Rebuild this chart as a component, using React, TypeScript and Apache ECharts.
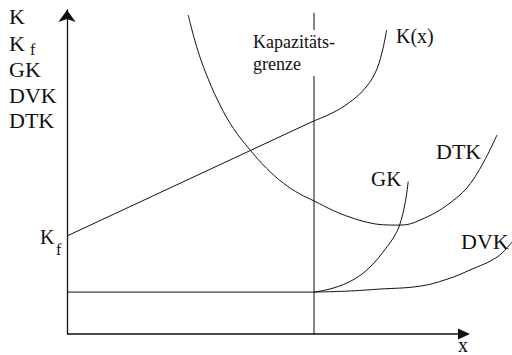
import React, { useEffect, useRef } from "react";
import * as echarts from "echarts";

// Data in axis units (x: 0..111.25, y: 0..98.18)
const capacityX = 61.75;
const fixedCost = 29.7; // K_f level
const variableBase = 12.7; // level of the flat part up to the capacity limit
const xAxisEnd = 100.75;
const kLine: number[][] = [[0, fixedCost], [capacityX, 64.6]];
const kCurve: number[][] = [[61.75, 64.6], [66.2, 66.9], [70.3, 69.9], [74.1, 73.9], [77, 79], [78.7, 85.1], [79.9, 92.1]];
const dtk: number[][] = [
  [30.3, 96.7], [32.4, 87.1], [34.9, 78.5], [38.25, 69.4], [41.6, 62.3], [45.75, 55.8], [49.9, 50.2],
  [54.1, 45.7], [58.25, 42.4], [61.8, 40.3], [66.6, 37.4], [70.75, 35.4], [74.9, 33.9], [79.1, 33.1],
  [83.25, 33.0], [88.25, 34.5], [95.75, 39.7], [101.5, 46.7], [107.5, 60.3],
];
const gk: number[][] = [
  [61.75, 12.7], [66.5, 13.9], [71.5, 16.4], [75.75, 20.3], [80, 26.4], [82, 30], [83.15, 33.0],
  [84.5, 39.5], [85.3, 46.2],
];
const dvk: number[][] = [
  [61.75, 12.7], [70, 13.0], [78, 13.6], [88.25, 14.5], [95, 16.6], [100.75, 19.4], [107.5, 23.3], [111.25, 27.9],
];
const baseLine: number[][] = [[0, variableBase], [capacityX, variableBase]];
const capLow: number[][] = [[capacityX, 0], [capacityX, 78.2]];
const capHigh: number[][] = [[capacityX, 92.1], [capacityX, 97.3]];

const FAMILY = "Liberation Serif";

// text label placed by its left edge and baseline
function lab(text: string, x: number, baseline: number, size: number) {
  return {
    text,
    left: x,
    top: baseline - 0.8375 * size,
    padding: 0,
    textStyle: { fontFamily: FAMILY, fontSize: size, fontWeight: "normal", color: "#111" },
  };
}

export default function App() {
  const ref = useRef<HTMLDivElement>(null);
  useEffect(() => {
    if (!ref.current) return;
    const chart = echarts.init(ref.current, null, { renderer: "svg" });
    const lineStyle = { color: "#111", width: 1 };
    const mk = (data: number[][], smooth: number | boolean = false) => ({
      type: "line",
      data,
      smooth,
      symbol: "none",
      clip: false,
      lineStyle,
      silent: true,
    });
    const labels = [
      lab("K", 9, 24, 22),
      lab("K", 9, 51, 22),
      lab("f", 30, 55, 16),
      lab("GK", 9, 77, 22),
      lab("DVK", 9, 103, 22),
      lab("DTK", 9, 128, 22),
      lab("K", 40, 244, 20),
      lab("f", 56, 255, 16),
      lab("K(x)", 396, 43, 20),
      lab("DTK", 436, 159, 22),
      lab("GK", 371, 186, 21),
      lab("DVK", 461, 249, 22),
      lab("x", 458, 352, 20),
      lab("Kapazitäts-", 253, 48, 18),
      lab("grenze", 253, 70, 18),
    ];
    chart.setOption({
      animation: false,
      backgroundColor: "#fff",
      title: labels,
      grid: { left: 67, right: 0, top: 10, bottom: 21 },
      xAxis: {
        type: "value",
        min: 0,
        max: 111.25,
        splitLine: { show: false },
        axisTick: { show: false },
        axisLabel: { show: false },
        axisLine: { show: false },
      },
      yAxis: {
        type: "value",
        min: 0,
        max: 98.18,
        splitLine: { show: false },
        axisTick: { show: false },
        axisLabel: { show: false },
        axisLine: { lineStyle: { color: "#111", width: 1.3 }, symbol: ["none", "arrow"], symbolSize: [13, 12] },
      },
      series: [
        mk(kLine),
        mk(kCurve, 0.4),
        mk(dtk, 0.4),
        mk(gk, 0.4),
        mk(dvk, 0.4),
        mk(baseLine),
        mk(capLow),
        mk(capHigh),
      ],
    });
    // x axis with arrow, drawn from the axis scale
    const p0 = chart.convertToPixel({ gridIndex: 0 }, [0, 0]) as number[];
    const p1 = chart.convertToPixel({ gridIndex: 0 }, [xAxisEnd, 0]) as number[];
    chart.setOption({
      graphic: [
        {
          type: "line",
          shape: { x1: p0[0], y1: p0[1], x2: p1[0] - 8, y2: p1[1] },
          style: { stroke: "#111", lineWidth: 1.3 },
          silent: true,
        },
        {
          type: "polygon",
          shape: { points: [[p1[0], p1[1]], [p1[0] - 12, p1[1] - 5.5], [p1[0] - 12, p1[1] + 5.5]] },
          style: { fill: "#111" },
          silent: true,
        },
      ],
    });
    return () => chart.dispose();
  }, []);
  return <div ref={ref} style={{ position: "fixed", left: 0, top: 0, width: 512, height: 355 }} />;
}
